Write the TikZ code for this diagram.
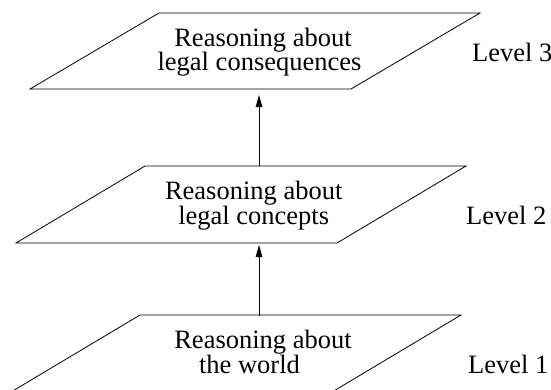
\documentclass[tikz,border=0pt]{standalone}
\usepackage{fontspec}
\setmainfont{Liberation Serif}
\usetikzlibrary{arrows.meta}
\newcommand\tightlines{\lineskiplimit=-30pt\relax\lineskip=0pt\relax}
\begin{document}
\begin{tikzpicture}[x=1pt,y=-1pt,
  plane/.style={draw=black,line width=0.8pt,line join=miter},
  txt/.style={anchor=center,inner sep=0pt,align=center,
    font={\fontsize{26.5}{24.6}\selectfont\tightlines}},
  lvl/.style={anchor=base west,inner sep=0pt,font=\fontsize{26.5}{23}\selectfont},
  up/.style={draw=black,line width=0.8pt,-{Triangle[length=12pt,width=6.5pt]}}]
\clip (0,0) rectangle (551,389);
% level 3 plane
\coordinate (p3a) at (159,13);
\coordinate (p3b) at (480,13);
\coordinate (p3c) at (351,89);
\coordinate (p3d) at (30,89);
\draw[plane] (p3a) -- (p3b) -- (p3c) -- (p3d) -- cycle;
% level 2 plane
\coordinate (p2a) at (145,166);
\coordinate (p2b) at (466,166);
\coordinate (p2c) at (337,243);
\coordinate (p2d) at (16,243);
\draw[plane] (p2a) -- (p2b) -- (p2c) -- (p2d) -- cycle;
% level 1 plane
\coordinate (p1a) at (140,315);
\coordinate (p1b) at (461,315);
\coordinate (p1c) at (332,392);
\coordinate (p1d) at (11,392);
\draw[plane] (p1a) -- (p1b) -- (p1c) -- (p1d) -- cycle;
% texts
\node[txt] (t3) at (263,52.3) {Reasoning about\\legal consequences\hspace*{7pt}};
\node[txt] (t2) at (253.7,205.8) {Reasoning about\\legal concepts};
\node[txt] (t1) at (263,352) {Reasoning about\\the world\hspace*{27pt}};
% level labels
\node[lvl] (l3) at (472,61) {Level 3};
\node[lvl] (l2) at (466,224) {Level 2};
\node[lvl] (l1) at (468,373) {Level 1};
% arrows
\coordinate (s3) at (259,166);
\coordinate (h3) at (259,95);
\coordinate (s2) at (259,316);
\coordinate (h2) at (259,245);
\draw[up] (s3) -- (h3);
\draw[up] (s2) -- (h2);
\end{tikzpicture}
\end{document}
